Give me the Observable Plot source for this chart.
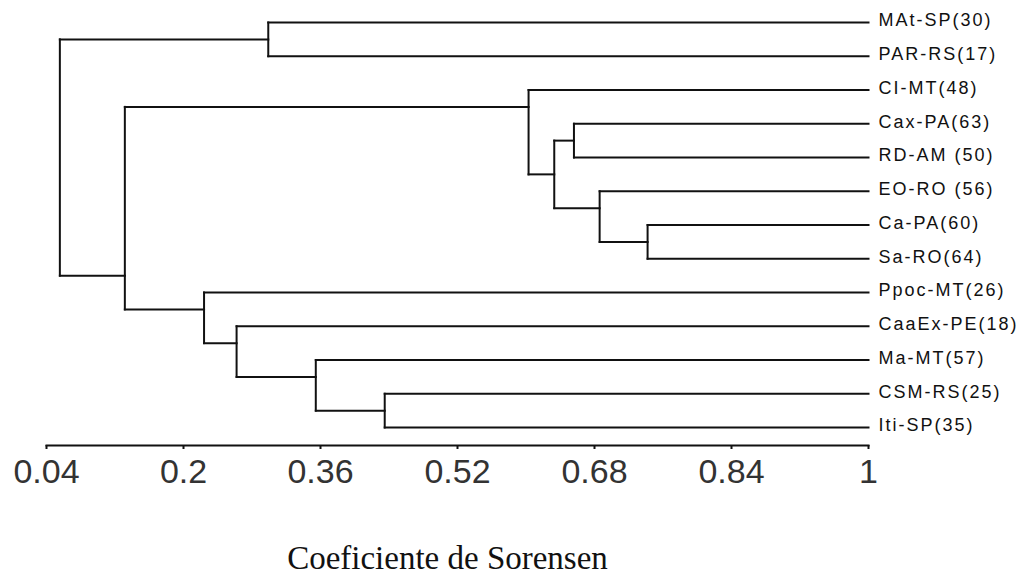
<!DOCTYPE html>
<html><head><meta charset="utf-8">
<script src="https://cdn.jsdelivr.net/npm/d3@7"></script>
<script src="https://cdn.jsdelivr.net/npm/@observablehq/plot@0.6"></script>
<style>body{margin:0;background:#fff}</style>
</head><body><div id="chart"></div>
<script>
// Leaves in dendrogram order (top to bottom)
const leaves = ["MAt-SP(30)","PAR-RS(17)","CI-MT(48)","Cax-PA(63)","RD-AM (50)","EO-RO (56)","Ca-PA(60)","Sa-RO(64)","Ppoc-MT(26)","CaaEx-PE(18)","Ma-MT(57)","CSM-RS(25)","Iti-SP(35)"];
// Merges: node ids 13.. are created in this order
const mergeLeft   = [6, 3, 5, 14, 2, 11, 10, 9, 8, 17, 0, 23];
const mergeRight  = [7, 4, 13, 15, 16, 12, 18, 19, 20, 21, 1, 22];
const mergeHeight = [0.742, 0.656, 0.686, 0.633, 0.603, 0.435, 0.3545, 0.262, 0.224, 0.1315, 0.299, 0.0556];
const xTicks = [0.04, 0.2, 0.36, 0.52, 0.68, 0.84, 1];
const leafHeight = 1;
const axisTitle = "Coeficiente de Sorensen";

// Build node info
const nodes = leaves.map((name, i) => ({name, h: leafHeight, min: i, max: i, attach: i}));
const segs = [];
mergeLeft.forEach((l, k) => {
  const a = nodes[l], b = nodes[mergeRight[k]];
  const h = mergeHeight[k];
  const node = {h, min: Math.min(a.min, b.min), max: Math.max(a.max, b.max), attach: (a.max + b.min) / 2};
  segs.push({x1: a.h, x2: h, y1: a.attach, y2: a.attach});
  segs.push({x1: b.h, x2: h, y1: b.attach, y2: b.attach});
  segs.push({x1: h, x2: h, y1: a.attach, y2: b.attach});
  nodes.push(node);
});
const leafData = leaves.map((name, i) => ({name, i, h: leafHeight}));

const plot = Plot.plot({
  width: 1024,
  height: 575,
  marginLeft: 46,
  marginRight: 156,
  marginTop: 22,
  marginBottom: 130,
  style: {fontFamily: "'Liberation Sans', Arial, sans-serif", background: "#fff", color: "#111"},
  x: {domain: [0.04, 1]},
  y: {domain: [0, leaves.length - 1], range: [22, 427], axis: null},
  marks: [
    Plot.frame({anchor: "bottom", stroke: "#111", strokeWidth: 2}),
    Plot.axisX(xTicks, {tickSize: 4, tickPadding: 9, fontSize: 34, fill: "#333", stroke: "#111", strokeWidth: 2, label: null, tickFormat: d => String(d)}),
    Plot.link(segs, {x1: "x1", y1: "y1", x2: "x2", y2: "y2", stroke: "#111", strokeWidth: 2, strokeLinecap: "square"}),
    Plot.text(leafData, {x: "h", y: "i", text: "name", textAnchor: "start", dx: 10, dy: -2, fontSize: 18, fill: "#111"}),
    Plot.text([axisTitle], {frameAnchor: "bottom", lineAnchor: "bottom", dy: 123, dx: -10, fontSize: 33, fontFamily: "'Liberation Serif', 'Times New Roman', serif", fill: "#111"})
  ]
});
const leafSet = new Set(leaves);
d3.select(plot).selectAll("text").filter(function() { return leafSet.has(this.textContent); }).style("letter-spacing", "2px");
document.getElementById("chart").appendChild(plot);
</script>
</body></html>
